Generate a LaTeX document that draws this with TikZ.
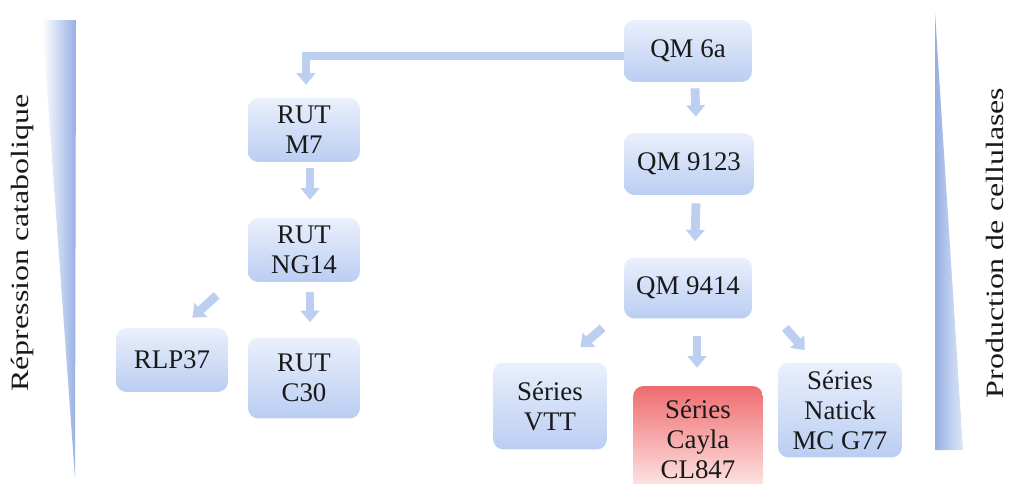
\documentclass[tikz,border=0pt]{standalone}
\usepackage{fontspec}
\setmainfont{Liberation Serif}
\usetikzlibrary{arrows.meta,calc}
\definecolor{boxtop}{RGB}{234,240,252}
\definecolor{boxbot}{RGB}{186,205,242}
\definecolor{redtop}{RGB}{238,108,110}
\definecolor{redbot}{RGB}{255,234,234}
\definecolor{arrowblue}{RGB}{188,207,240}
\definecolor{triblue}{RGB}{150,176,228}
\definecolor{txt}{RGB}{25,25,25}

\begin{document}
\begin{tikzpicture}[x=0.02cm,y=-0.02cm,
  strain/.style={rounded corners=6pt,top color=boxtop,bottom color=boxbot,
    minimum width=2.24cm,minimum height=1.28cm,align=center,text=txt,
    font=\fontsize{15.3}{17}\selectfont,inner sep=0pt},
  mutant/.style={strain,top color=redtop,bottom color=redbot},
  side/.style={rotate=90,text=txt,font=\fontsize{14.2}{16}\selectfont},
  arr/.style={line width=5pt,arrowblue,-{Triangle[width=10.5pt,length=6.5pt]}}]
  \useasboundingbox (0,0) rectangle (1009,484);
  % the two wedges
  \shade[left color=white,right color=triblue] (42,20) -- (76,20) -- (75,478) -- cycle;
  \shade[left color=triblue,right color=triblue!30] (935,12) -- (963,450) -- (935,450) -- cycle;
  \node[side] (repr) at (22,243) {\scalebox{1.28}[1]{Répression catabolique}};
  \node[side] (prod) at (995,243) {\scalebox{1.28}[1]{Production de cellulases}};
  % strains
  \node[strain,minimum width=2.56cm,minimum height=1.24cm] (qm6a) at (688,51) {QM 6a};
  \node[strain,minimum width=2.6cm,minimum height=1.24cm] (qm9123) at (689,164) {QM 9123};
  \node[strain,minimum width=2.56cm,minimum height=1.22cm] (qm9414) at (688,288) {QM 9414};
  \node[strain] (rutm7) at (304,130) {RUT\\M7};
  \node[strain] (rutng14) at (304,250) {RUT\\NG14};
  \node[strain] (rlp37) at (172,360) {RLP37};
  \node[strain,minimum height=1.62cm] (rutc30) at (304,378) {RUT\\C30};
  \node[strain,minimum width=2.28cm,minimum height=1.74cm] (vtt) at (550,406) {Séries\\VTT};
  \node[mutant,minimum width=2.6cm,minimum height=2.12cm] (cayla) at (698,439) {Séries\\Cayla\\CL847};
  \node[strain,minimum width=2.48cm,minimum height=1.9cm] (natick) at (840,410) {Séries\\Natick\\MC G77};
  % filiation
  \draw[arr] ($(qm6a.west)+(0,5)$) -| ($(rutm7.north)+(2,-13)$);
  \draw[arr] ($(qm6a.south)+(7,6)$) -- ($(qm9123.north)+(7,-16)$);
  \draw[arr] ($(qm9123.south)+(7,8)$) -- ($(qm9414.north)+(7,-16)$);
  \draw[arr] ($(rutm7.south)+(6,6)$) -- ($(rutng14.north)+(6,-18)$);
  \draw[arr] ($(rutng14.south)+(6,10)$) -- ($(rutc30.north)+(6,-15)$);
  \draw[arr] ($(rutng14.south west)+(-31,13)$) -- ($(rlp37.north east)+(-36,-10)$);
  \draw[arr] ($(qm9414.south west)+(-21,9)$) -- ($(vtt.north east)+(-27,-15)$);
  \draw[arr] ($(qm9414.south)+(9,17)$) -- ($(cayla.north)+(-1,-18)$);
  \draw[arr] ($(qm9414.south east)+(33,9)$) -- ($(natick.north west)+(27,-12)$);
\end{tikzpicture}
\end{document}
